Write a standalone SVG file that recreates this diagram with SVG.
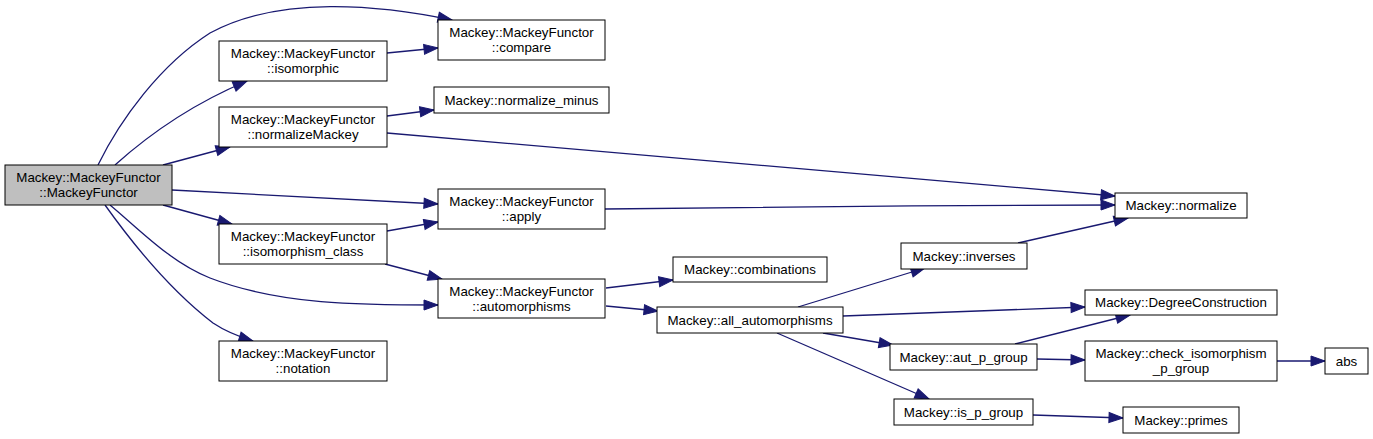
<svg xmlns="http://www.w3.org/2000/svg" width="1373" height="439" viewBox="0 0 1373 439">
<style>
.n rect{fill:#fff;stroke:#000;stroke-width:1}
.n.root rect{fill:#bfbfbf}
.n text{font-family:"Liberation Sans",Arial,sans-serif;font-size:13.33px;fill:#000;text-anchor:middle}
.e path{fill:none;stroke:#191970;stroke-width:1.3;marker-end:url(#ah)}
</style>
<defs>
<marker id="ah" markerUnits="userSpaceOnUse" markerWidth="16" markerHeight="12" refX="14" refY="5" orient="auto" overflow="visible">
<path d="M0,0 L14,5 L0,10 z" fill="#191970" stroke="#191970" stroke-width="1"/>
</marker>
</defs>
<rect width="1373" height="439" fill="#fff"/>
<g class="e" id="edges">
<path d="M98,165 C120,120 160,65 210,33 C280,-5 380,5 452,20"/>
<path d="M115,165 C145,138 190,105 247,81"/>
<path d="M163,165 L230,147"/>
<path d="M172,190 L438,204"/>
<path d="M163,205 L232,224"/>
<path d="M110,205 C140,230 170,262 210,278 C280,305 360,305 438,305"/>
<path d="M105,205 C130,240 170,290 213,323 C225,331 240,337 253,341"/>
<path d="M387,53 L438,48"/>
<path d="M387,116 L434,110"/>
<path d="M387,133 L1115,196"/>
<path d="M605,209 C750,207 950,205 1115,205"/>
<path d="M387,231 L438,222"/>
<path d="M385,264 L442,279"/>
<path d="M606,288 L673,280"/>
<path d="M606,306 L658,311"/>
<path d="M798,307 L925,268"/>
<path d="M1018,243 L1128,218"/>
<path d="M843,316 L1085,307"/>
<path d="M823,333 L893,345"/>
<path d="M777,333 L929,399"/>
<path d="M1015,344 L1130,315"/>
<path d="M1037,359 L1085,360"/>
<path d="M1277,361 L1325,361"/>
<path d="M1033,415 L1123,418"/>
</g>
<g class="n root" id="node-MackeyFunctor"><rect x="5" y="165" width="167" height="40"/><text x="88.5" y="181.5">Mackey::MackeyFunctor</text><text x="88.5" y="196.5">::MackeyFunctor</text></g>
<g class="n" id="node-isomorphic"><rect x="219" y="41" width="168" height="40"/><text x="303" y="57.5">Mackey::MackeyFunctor</text><text x="303" y="72.5">::isomorphic</text></g>
<g class="n" id="node-normalizeMackey"><rect x="219" y="107" width="168" height="40"/><text x="303" y="123.5">Mackey::MackeyFunctor</text><text x="303" y="138.5">::normalizeMackey</text></g>
<g class="n" id="node-isomorphism_class"><rect x="219" y="224" width="168" height="40"/><text x="303" y="240.5">Mackey::MackeyFunctor</text><text x="303" y="255.5">::isomorphism_class</text></g>
<g class="n" id="node-notation"><rect x="219" y="341" width="168" height="40"/><text x="303" y="357.5">Mackey::MackeyFunctor</text><text x="303" y="372.5">::notation</text></g>
<g class="n" id="node-compare"><rect x="438" y="20" width="167" height="40"/><text x="521.5" y="36.5">Mackey::MackeyFunctor</text><text x="521.5" y="51.5">::compare</text></g>
<g class="n" id="node-normalize_minus"><rect x="434" y="87" width="175" height="26"/><text x="521.5" y="104.5">Mackey::normalize_minus</text></g>
<g class="n" id="node-apply"><rect x="438" y="189" width="167" height="40"/><text x="521.5" y="205.5">Mackey::MackeyFunctor</text><text x="521.5" y="220.5">::apply</text></g>
<g class="n" id="node-automorphisms"><rect x="438" y="279" width="167" height="39"/><text x="521.5" y="295.5">Mackey::MackeyFunctor</text><text x="521.5" y="310.5">::automorphisms</text></g>
<g class="n" id="node-combinations"><rect x="673" y="257" width="154" height="25"/><text x="750" y="274">Mackey::combinations</text></g>
<g class="n" id="node-all_automorphisms"><rect x="657" y="307" width="186" height="26"/><text x="750" y="324.5">Mackey::all_automorphisms</text></g>
<g class="n" id="node-normalize"><rect x="1115" y="193" width="132" height="25"/><text x="1181" y="210">Mackey::normalize</text></g>
<g class="n" id="node-inverses"><rect x="901" y="243" width="126" height="26"/><text x="964" y="260.5">Mackey::inverses</text></g>
<g class="n" id="node-DegreeConstruction"><rect x="1085" y="290" width="192" height="25"/><text x="1181" y="307">Mackey::DegreeConstruction</text></g>
<g class="n" id="node-aut_p_group"><rect x="890" y="344" width="147" height="26"/><text x="963.5" y="361.5">Mackey::aut_p_group</text></g>
<g class="n" id="node-check_isomorphism"><rect x="1085" y="341" width="192" height="40"/><text x="1181" y="357.5">Mackey::check_isomorphism</text><text x="1181" y="372.5">_p_group</text></g>
<g class="n" id="node-abs"><rect x="1325" y="348" width="43" height="26"/><text x="1346.5" y="365.5">abs</text></g>
<g class="n" id="node-is_p_group"><rect x="894" y="399" width="139" height="26"/><text x="963.5" y="416.5">Mackey::is_p_group</text></g>
<g class="n" id="node-primes"><rect x="1123" y="407" width="116" height="26"/><text x="1181" y="424.5">Mackey::primes</text></g>
</svg>
